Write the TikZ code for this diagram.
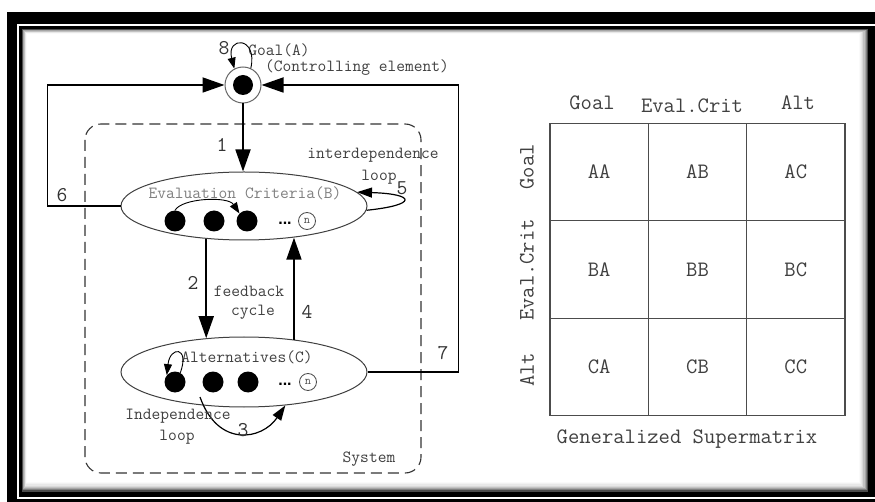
\documentclass[tikz,border=0pt]{standalone}
\usepackage{fontspec}
\newfontfamily\dotfont{Liberation Sans}
\usetikzlibrary{arrows.meta,shapes.geometric,calc}
\begin{document}
\begin{tikzpicture}[x=1pt,y=-1pt,
  bigarr/.style={line width=1.8pt,-{Triangle[length=22pt,width=15pt]}},
  loopline/.style={line width=1.2pt,-{Triangle[length=15pt,width=10pt]}},
  smallarr/.style={line width=0.9pt,-{Triangle[length=11pt,width=8pt]}},
  ell/.style={ellipse,draw=black!75,line width=1pt,inner sep=0pt},
  blackdot/.style={circle,fill=black,minimum size=21pt,inner sep=0pt},
  ncirc/.style={circle,draw=black!70,line width=0.8pt,minimum size=17pt,inner sep=0pt,font=\ttfamily\fontsize{12}{12}\selectfont,text=black!70},
  ellip/.style={inner sep=0pt,font=\dotfont\bfseries\fontsize{16}{16}\selectfont},
  lbl/.style={text=black!75,font=\ttfamily\fontsize{17}{20}\selectfont,inner sep=0pt},
  lblight/.style={text=black!50,font=\ttfamily\fontsize{17}{20}\selectfont,inner sep=0pt},
  num/.style={text=black!80,font=\ttfamily\fontsize{21}{22}\selectfont,inner sep=0pt},
  cell/.style={draw=black!70,line width=1.2pt,minimum width=98.3pt,minimum height=97.3pt,inner sep=0pt,text=black!75,font=\ttfamily\fontsize{22}{24}\selectfont},
  mlbl/.style={text=black!75,font=\ttfamily\fontsize{22}{24}\selectfont,inner sep=0pt}
]
% background and frame
\fill[white] (0,0) rectangle (875,502);
\useasboundingbox (0,0) rectangle (875,502);
\fill[black] (7,12) rectangle (875,502);
\draw[white,line width=1.6pt] (875,25) -- (18,25) -- (18,498) -- (875,498);
\foreach \i/\c in {0/100,1/100,2/70,3/50,4/35,5/24,6/15,7/9,8/5,9/2,10/0}
  \fill[black!\c] ({21+0.6*\i},{28+0.6*\i}) rectangle ({870-1.1*\i},{494-1.2*\i});

% system box
\draw[draw=black!80,line width=1.1pt,dash pattern=on 11pt off 6pt,rounded corners=16pt] (85,124) rectangle (421,473);
\node[lbl] (system) at (369,459) {System};

% goal
\node[circle,draw=black!60,line width=1pt,minimum size=36pt,inner sep=0pt,fill=white] (goal) at (243,85) {};
\node[circle,fill=black,minimum size=20pt,inner sep=0pt] (goaldot) at (goal) {};
\node[num] (n8) at (224,48) {8};
\node[lbl] (goaltxt) at (279,50) {Goal(A)};
\node[lbl] (ctrl) at (357,68) {(Controlling element)};

% evaluation criteria
\node[ell,minimum width=246pt,minimum height=68pt] (eval) at (244,206) {};
\node[lblight] (evaltxt) at (245,193) {Evaluation Criteria(B)};
\node[blackdot] (b1) at (175,221) {};
\node[blackdot] (b2) at (214,221) {};
\node[blackdot] (b3) at (247,221) {};
\node[ellip] (bdots) at (285,223) {...};
\node[ncirc] (bn) at (307,221) {n};

% alternatives
\node[ell,minimum width=246pt,minimum height=70pt] (alt) at (244,372) {};
\node[lbl] (alttxt) at (247,357) {Alternatives(C)};
\node[blackdot] (a1) at (175,382) {};
\node[blackdot] (a2) at (213,382) {};
\node[blackdot] (a3) at (248,382) {};
\node[ellip] (adots) at (285,384) {...};
\node[ncirc] (an) at (308,382) {n};

% main arrows
\draw[bigarr] (goal.south) -- (goal.south |- eval.north);
\draw[bigarr] (eval.221) -- (eval.221 |- alt.138);
\draw[bigarr] (alt.33) -- (alt.33 |- eval.327);
\draw[bigarr] (eval.west) -- ++(-73,0) |- (goal.west);
\draw[bigarr] (alt.east) -- ++(91,0) |- (goal.east);

% loops
\draw[loopline] (eval.-2) .. controls (418,205) and (416,194) .. (eval.7);
\draw[smallarr] (goal.65) .. controls (258,36) and (226,36) .. (goal.118);
\draw[smallarr] (b1.north) .. controls (182,198) and (228,196) .. (b3.north west);
\draw[smallarr] (a1.60) .. controls (190,346) and (170,346) .. (a1.140);
\coordinate (l3s) at (200,397);
\draw[loopline] (l3s) .. controls (218,448) and (262,440) .. (alt.321);

% labels
\node[num] (n1) at (222,145) {1};
\node[num] (n2) at (193,283) {2};
\node[num] (n3) at (243,430) {3};
\node[num] (n4) at (307,312) {4};
\node[num] (n5) at (402,188) {5};
\node[num] (n6) at (62,195) {6};
\node[num] (n7) at (443,353) {7};
\node[lbl] (interdep) at (373,155) {interdependence};
\node[lbl] (loop1) at (379,177) {loop};
\node[lbl] (feedback) at (249,291) {feedback};
\node[lbl] (cycle) at (253,312) {cycle};
\node[lbl] (indep) at (178,416) {Independence};
\node[lbl] (loop2) at (177,437) {loop};

% supermatrix
\node[cell] (aa) at (599.2,172) {AA};
\node[cell] (ab) at (697.5,172) {AB};
\node[cell] (ac) at (795.8,172) {AC};
\node[cell] (ba) at (599.2,269.5) {BA};
\node[cell] (bb) at (697.5,269.5) {BB};
\node[cell] (bc) at (795.8,269.5) {BC};
\node[cell] (ca) at (599.2,366.8) {CA};
\node[cell] (cb) at (697.5,366.8) {CB};
\node[cell] (cc) at (795.8,366.8) {CC};
\node[mlbl] (cgoal) at (592,103) {Goal};
\node[mlbl] (ceval) at (692,106) {Eval.Crit};
\node[mlbl] (calt) at (798,103) {Alt};
\node[mlbl,rotate=90] (rgoal) at (527,167) {Goal};
\node[mlbl,rotate=90] (reval) at (527,270) {Eval.Crit};
\node[mlbl,rotate=90] (ralt) at (527,370) {Alt};
\node[mlbl] (gsm) at (687,439) {Generalized Supermatrix};
\end{tikzpicture}
\end{document}
